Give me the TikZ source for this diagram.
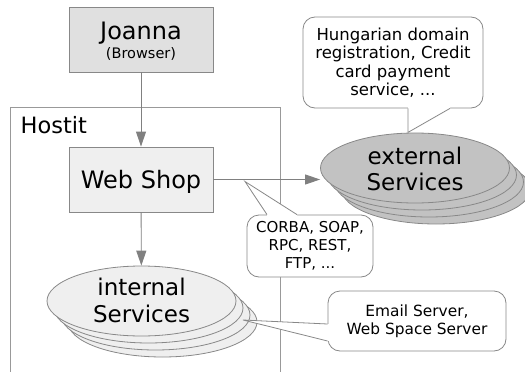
\documentclass[tikz,border=0pt]{standalone}
\usepackage{fontspec}
\setmainfont{DejaVu Sans}
\usetikzlibrary{shapes.geometric,arrows.meta,calc}

\definecolor{edgegray}{HTML}{888888}
\definecolor{framegray}{HTML}{999999}
\definecolor{linegray}{HTML}{808080}
\definecolor{boxdark}{HTML}{E0E0E0}
\definecolor{boxlight}{HTML}{EFEFEF}
\definecolor{extfill}{HTML}{C2C2C2}

\newcommand\setfs[2]{\fontsize{#1}{#2}\selectfont}

\tikzset{
  box/.style={rectangle, draw=edgegray, line width=0.9pt, minimum width=144pt,
    minimum height=65pt, inner sep=0pt},
  svc/.style={ellipse, draw=edgegray, line width=0.8pt, minimum width=189pt,
    minimum height=70pt, inner sep=0pt},
  conn/.style={draw=linegray, line width=0.9pt, -{Triangle[length=15pt,width=10pt]}},
  callout/.style={rectangle, rounded corners=12pt, draw=edgegray, fill=white,
    line width=0.8pt, inner sep=0pt, align=center},
  pointer/.style={draw=edgegray, line width=0.8pt, line join=miter},
  label/.style={anchor=base, inner sep=0pt},
}

\begin{document}
\begin{tikzpicture}[x=1pt,y=-1pt]
  \useasboundingbox (0,0) rectangle (525,372);

  % Hostit frame (open at the bottom)
  \draw[framegray, line width=0.8pt] (10.5,373) -- (10.5,107) -- (280,107) -- (280,373);
  \node[anchor=base west, inner sep=0pt, font=\setfs{22.5}{26}] (hostit) at (20.5,133) {Hostit};

  % Browser
  \node[box, fill=boxdark] (joanna) at (141,39.5) {};
  \node[label, font=\setfs{24}{28}] (joannaname) at (141,39.5) {Joanna};
  \node[label, font=\setfs{14.5}{17}] (joannarole) at (141,58.5) {(Browser)};

  % Web shop
  \node[box, fill=boxlight] (webshop) at (141,179.5) {};
  \node[label, font=\setfs{24}{28}] (webshopname) at (141,188) {Web Shop};

  % internal services (stacked)
  \node[svc, fill=boxlight] (int3) at (162.5,322) {};
  \node[svc, fill=boxlight] (int2) at (155.5,315) {};
  \node[svc, fill=boxlight] (int1) at (148.5,308) {};
  \node[svc, fill=boxlight] (int)  at (141.5,301) {};
  \node[label, font=\setfs{23}{27}] (intname1) at (141.5,295.7) {internal};
  \node[label, font=\setfs{23}{27}] (intname2) at (141.5,322.7) {Services};

  % external services (stacked)
  \node[svc, fill=extfill] (ext3) at (436,189) {};
  \node[svc, fill=extfill] (ext2) at (429,182) {};
  \node[svc, fill=extfill] (ext1) at (422,175) {};
  \node[svc, fill=extfill] (ext)  at (415,168) {};
  \node[label, font=\setfs{23}{27}] (extname1) at (415,164) {external};
  \node[label, font=\setfs{23}{27}] (extname2) at (415,190.7) {Services};

  % connectors
  \draw[conn] (joanna) -- (webshop);
  \draw[conn] (webshop) -- (int);
  \draw[conn] (webshop.east) -- (webshop.east -| ext.west);

  % note on the external services
  \node[callout, minimum width=180pt, minimum height=91pt, font=\setfs{16.5}{18.4}]
    (note1) at (393,62.5) {Hungarian domain\\registration, Credit\\card payment\\service, ...};
  \coordinate (tip1) at ($(note1.south)+(15,24)$);
  \fill[white] ($(note1.south)+(15,-3)$) -- ($(note1.south)+(15,0)$) -- (tip1)
    -- ($(note1.south)+(57,0)$) -- ($(note1.south)+(57,-3)$) -- cycle;
  \draw[pointer] ($(note1.south)+(15,0)$) -- (tip1) -- ($(note1.south)+(57,0)$);

  % note on the protocols
  \node[callout, minimum width=126pt, minimum height=62pt, font=\setfs{15}{18.2}]
    (note2) at (310,246) {CORBA, SOAP,\\RPC, REST,\\FTP, ...};
  \coordinate (tip2) at (245,181.5);
  \fill[white] ($(note2.north)+(-43,3)$) -- ($(note2.north)+(-43,0)$) -- (tip2)
    -- ($(note2.north)+(-13,0)$) -- ($(note2.north)+(-13,3)$) -- cycle;
  \draw[pointer] ($(note2.north)+(-43,0)$) -- (tip2) -- ($(note2.north)+(-13,0)$);

  % note on the internal services
  \node[callout, minimum width=178pt, minimum height=60pt, font=\setfs{15.4}{18.3}]
    (note3) at (417,321) {Email Server,\\Web Space Server};
  \coordinate (tip3) at (243,320);
  \fill[white] ($(note3.west)+(3,3)$) -- ($(note3.west)+(0,3)$) -- (tip3)
    -- ($(note3.west)+(0,20)$) -- ($(note3.west)+(3,20)$) -- cycle;
  \draw[pointer] ($(note3.west)+(0,3)$) -- (tip3) -- ($(note3.west)+(0,20)$);
\end{tikzpicture}
\end{document}
